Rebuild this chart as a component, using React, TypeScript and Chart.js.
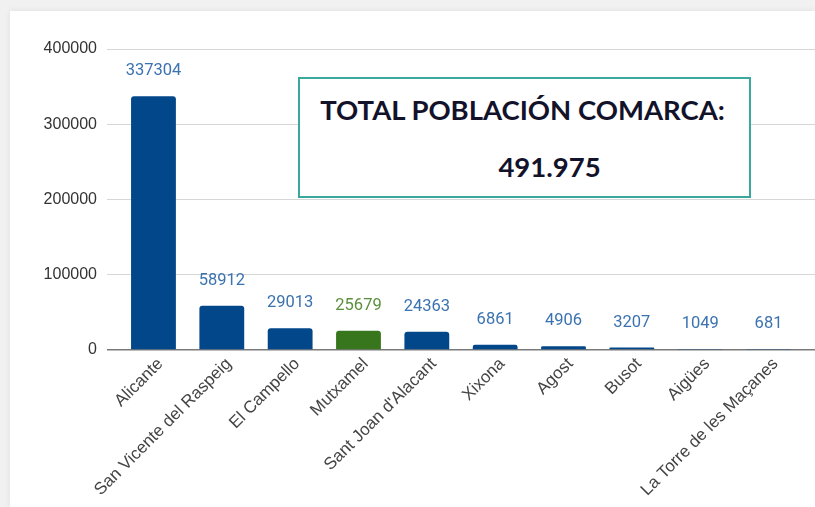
import React, { useEffect, useRef } from "react";
import { Chart, registerables } from "chart.js";

Chart.register(...registerables);

const categories: string[] = [
  "Alicante",
  "San Vicente del Raspeig",
  "El Campello",
  "Mutxamel",
  "Sant Joan d'Alacant",
  "Xixona",
  "Agost",
  "Busot",
  "Aigües",
  "La Torre de les Maçanes",
];
const population: number[] = [337304, 58912, 29013, 25679, 24363, 6861, 4906, 3207, 1049, 681];
const highlighted: string[] = ["Mutxamel"];
const yTicks: number[] = [0, 100000, 200000, 300000, 400000];
const totalTitle = "TOTAL POBLACIÓN COMARCA:";
const totalValue = "491.975";

const BLUE = "#02478a";
const GREEN = "#38761d";
const BLUE_LABEL = "#3b72b0";
const GREEN_LABEL = "#5a8f3c";

const dataLabelPlugin = {
  id: "dataLabels",
  afterDatasetsDraw(chart: any) {
    const ctx = chart.ctx;
    const meta = chart.getDatasetMeta(0);
    ctx.save();
    ctx.font = "16.5px Roboto";
    ctx.textAlign = "center";
    ctx.textBaseline = "middle";
    meta.data.forEach((bar: any, i: number) => {
      const isHi = highlighted.includes(categories[i]);
      ctx.fillStyle = isHi ? GREEN_LABEL : BLUE_LABEL;
      ctx.fillText(String(population[i]), bar.x, bar.y - 25);
    });
    ctx.restore();
  },
};

export default function App() {
  const ref = useRef<HTMLCanvasElement | null>(null);
  useEffect(() => {
    if (!ref.current) return;
    const colors = categories.map((c) => (highlighted.includes(c) ? GREEN : BLUE));
    const chart = new Chart(ref.current, {
      type: "bar",
      data: {
        datasets: [
          {
            data: population.map((v, i) => ({ x: i, y: v })),
            backgroundColor: colors,
            borderRadius: { topLeft: 3, topRight: 3, bottomLeft: 0, bottomRight: 0 },
            borderSkipped: false,
            barPercentage: 0.82,
            categoryPercentage: 0.8,
            minBarLength: 1,
          },
        ],
      },
      options: {
        animation: false,
        responsive: false,
        layout: { padding: { top: 38, left: 0, right: 0, bottom: 0 } },
        plugins: { legend: { display: false }, tooltip: { enabled: false } },
        scales: {
          x: {
            type: "linear",
            offset: false,
            min: -0.68,
            max: 9.68,
            grid: { display: false, offset: false },
            border: { display: false },
            afterBuildTicks: (axis: any) => {
              axis.ticks = categories.map((_, i) => ({ value: i }));
            },
            afterFit: (axis: any) => {
              axis.height = 157;
              axis.paddingLeft = 0;
              axis.paddingRight = 0;
            },
            ticks: {
              autoSkip: false,
              maxRotation: 45,
              minRotation: 45,
              padding: -4,
              labelOffset: 7,
              color: "#444444",
              font: { family: "'Liberation Sans', Arial", size: 17 },
              callback: (v: any) => categories[Math.round(Number(v))] ?? "",
            },
          },
          y: {
            min: 0,
            max: 400000,
            afterBuildTicks: (axis: any) => {
              axis.ticks = yTicks.map((v) => ({ value: v }));
            },
            afterFit: (axis: any) => {
              axis.width = 97;
              axis.paddingTop = 0;
              axis.paddingBottom = 0;
            },
            border: { display: false },
            grid: {
              drawTicks: false,
              color: (c: any) => (c.tick && c.tick.value === 0 ? "#7a7a7a" : "#d6d6d6"),
              lineWidth: (c: any) => (c.tick && c.tick.value === 0 ? 1.5 : 1),
            },
            ticks: {
              padding: 10,
              color: "#333333",
              font: { family: "'Liberation Sans', Arial", size: 16 },
              callback: (v: any) => String(v),
            },
          },
        },
      },
      plugins: [dataLabelPlugin],
    });
    return () => chart.destroy();
  }, []);

  return (
    <div style={{ position: "fixed", left: 0, top: 0, width: 815, height: 507, background: "#f1f1f1", overflow: "hidden" }}>
      <div
        style={{
          position: "absolute",
          left: 10,
          top: 11,
          width: 805,
          height: 496,
          background: "#ffffff",
          boxShadow: "0 0 6px rgba(0,0,0,0.08)",
        }}
      >
        <canvas ref={ref} width={805} height={496} style={{ display: "block", width: 805, height: 496 }} />
      </div>
      <div
        style={{
          position: "absolute",
          left: 298,
          top: 77,
          width: 449,
          height: 117,
          border: "2px solid #3aa89c",
          background: "#ffffff",
          fontFamily: "Lato, 'Open Sans', sans-serif",
          fontWeight: 700,
          color: "#13122b",
        }}
      >
        <div style={{ position: "absolute", left: 0, right: 4, top: 13, textAlign: "center", fontSize: 27.5, lineHeight: "36px" }}>
          {totalTitle}
        </div>
        <div style={{ position: "absolute", left: 50, right: 0, top: 70, textAlign: "center", fontSize: 27.5, lineHeight: "36px" }}>
          {totalValue}
        </div>
      </div>
    </div>
  );
}
